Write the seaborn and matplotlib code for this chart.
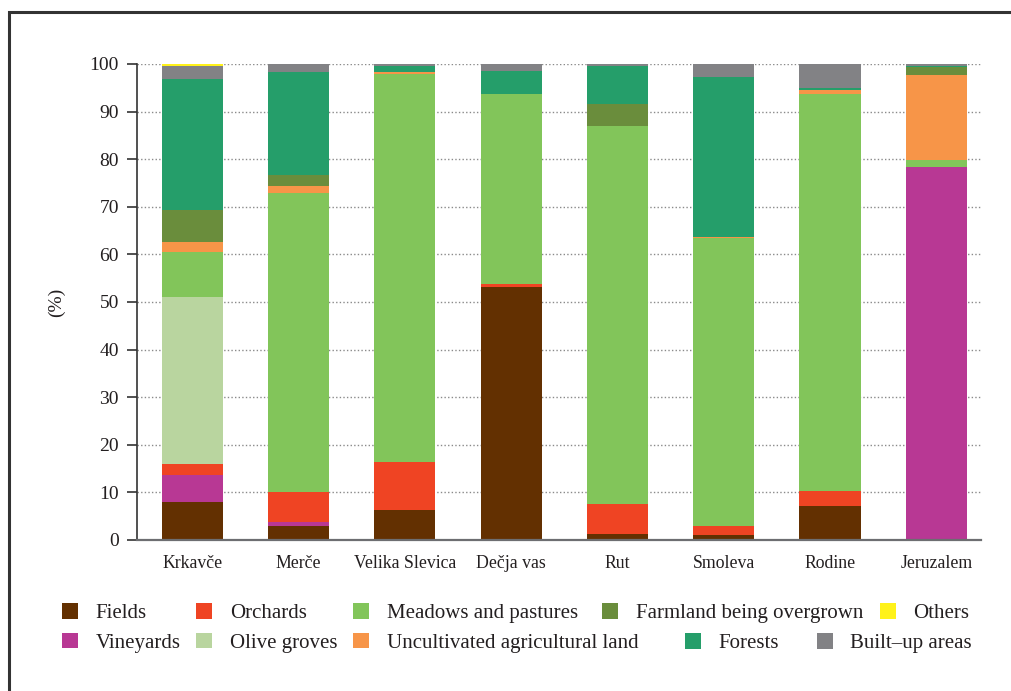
import matplotlib
matplotlib.use("Agg")
import matplotlib.pyplot as plt
import seaborn as sns
import numpy as np
from matplotlib.patches import Patch, Rectangle

# Land use shares (%) per settlement
places = ["Krkavče", "Merče", "Velika Slevica", "Dečja vas", "Rut", "Smoleva", "Rodine", "Jeruzalem"]
fields = [8.0, 2.9, 6.3, 53.2, 1.2, 1.0, 7.1, 0.0]
vineyards = [5.6, 0.9, 0.0, 0.0, 0.0, 0.0, 0.0, 78.4]
orchards = [2.4, 6.3, 10.1, 0.6, 6.4, 1.9, 3.2, 0.0]
olive_groves = [35.1, 0.0, 0.0, 0.0, 0.0, 0.0, 0.0, 0.0]
meadows = [9.5, 62.9, 81.4, 39.8, 79.4, 60.5, 83.4, 1.4]
uncultivated = [2.1, 1.4, 0.5, 0.2, 0.0, 0.3, 0.8, 17.9]
overgrown = [6.6, 2.3, 0.0, 0.0, 4.5, 0.0, 0.0, 1.7]
forests = [27.6, 21.6, 1.3, 4.7, 8.1, 33.6, 0.5, 0.2]
built_up = [2.7, 1.7, 0.4, 1.5, 0.4, 2.7, 5.0, 0.4]
others = [0.4, 0.0, 0.0, 0.0, 0.0, 0.0, 0.0, 0.0]
y_ticks = list(range(0, 101, 10))

# stacking order, bottom to top
layers = [
    ("Fields", fields, "#633001"),
    ("Vineyards", vineyards, "#b83894"),
    ("Orchards", orchards, "#ef4423"),
    ("Olive groves", olive_groves, "#b9d59f"),
    ("Meadows and pastures", meadows, "#82c55a"),
    ("Uncultivated agricultural land", uncultivated, "#f79548"),
    ("Farmland being overgrown", overgrown, "#6a8d3c"),
    ("Forests", forests, "#259e6a"),
    ("Built\u2013up areas", built_up, "#828285"),
    ("Others", others, "#fff21a"),
]
colors = {name: col for name, _, col in layers}

sns.set_theme(style="white")
plt.rcParams.update({
    "font.family": ["Liberation Serif", "DejaVu Serif"],
    "text.color": "#231f20",
    "axes.labelcolor": "#231f20",
    "xtick.color": "#231f20",
    "ytick.color": "#231f20",
})

fig = plt.figure(figsize=(10.11, 6.91), dpi=100)
ax = fig.add_axes([137 / 1011, 1 - 540 / 691, 844 / 1011, 476 / 691])
ax.set_axisbelow(True)

# cumulative tops, drawn tallest first so each layer covers the one above
cum = np.zeros(len(places))
tops = []
for name, vals, col in layers:
    cum = cum + np.array(vals)
    tops.append((name, cum.copy(), col))
for name, top, col in reversed(tops):
    sns.barplot(x=places, y=top, color=col, saturation=1, width=0.575,
                errorbar=None, ax=ax, linewidth=0)

ax.set_xlim(-0.52, 7.42)
ax.set_ylim(0, 100)
ax.set_yticks(y_ticks)
ax.yaxis.grid(True, linestyle=(0, (1, 1.6)), color="#8a8a8a", linewidth=1.0)
ax.xaxis.grid(False)

for side in ["top", "right"]:
    ax.spines[side].set_visible(False)
ax.spines["left"].set_color("#333333")
ax.spines["left"].set_linewidth(1.2)
ax.spines["bottom"].set_color("#6d6e71")
ax.spines["bottom"].set_linewidth(1.6)

ax.tick_params(axis="y", direction="out", length=7, width=1.2, color="#333333",
               labelsize=14, pad=6, left=True)
ax.tick_params(axis="x", length=0, labelsize=12.8, pad=11)
ax.set_xlabel("")
ax.set_ylabel("(%)", fontsize=14)
ax.yaxis.set_label_coords(-0.085, 0.5)

# outer frame
fig.patches.append(Rectangle((9 / 1011, -0.5), 1.5, 0.5 + (1 - 12 / 691),
                             transform=fig.transFigure, fill=False,
                             edgecolor="#333333", linewidth=2.2, zorder=0))

def handles(names):
    return [Patch(facecolor=colors[n], edgecolor="none", label=n) for n in names]

leg_kw = dict(loc="upper left", frameon=False, borderpad=0, borderaxespad=0,
              fontsize=15, handlelength=0.77, handleheight=0.77,
              handletextpad=0.85, labelspacing=0.47)

fig.legend(handles=handles(["Fields", "Vineyards", "Orchards", "Olive groves",
                            "Meadows and pastures", "Uncultivated agricultural land"]),
           ncol=3, columnspacing=0.75, bbox_to_anchor=(62 / 1011, 1 - 603 / 691), **leg_kw)
fig.legend(handles=handles(["Farmland being overgrown", "Others"]),
           ncol=2, columnspacing=0.8, bbox_to_anchor=(602 / 1011, 1 - 603 / 691), **leg_kw)
fig.legend(handles=handles(["Forests", "Built\u2013up areas"]),
           ncol=2, columnspacing=1.8, bbox_to_anchor=(685 / 1011, 1 - 633 / 691), **leg_kw)

fig.savefig("out.png", dpi=100)
